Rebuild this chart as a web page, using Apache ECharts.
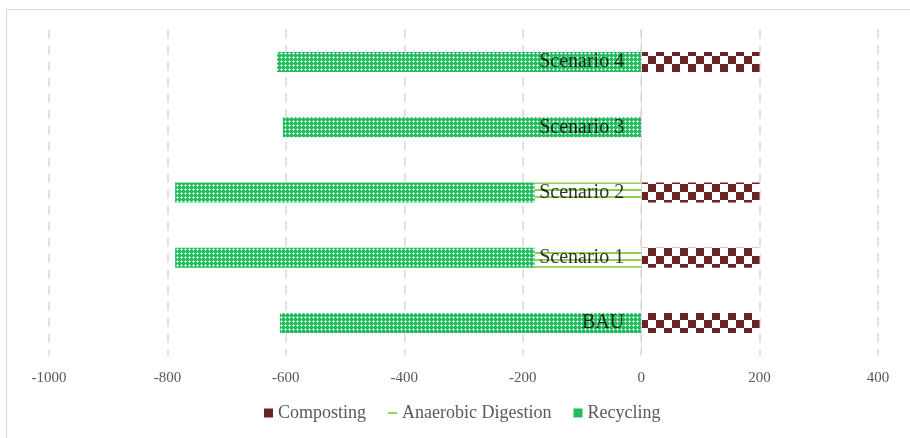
<!DOCTYPE html>
<html><head><meta charset="utf-8">
<script src="https://cdn.jsdelivr.net/npm/echarts@6/dist/echarts.min.js"></script>
<style>html,body{margin:0;padding:0;background:#fff}#c{width:910px;height:438px}</style>
</head><body><div id="c"></div>
<script>
const categories = ['BAU', 'Scenario 1', 'Scenario 2', 'Scenario 3', 'Scenario 4'];
const composting = [200, 200, 200, 0, 200];
const anaerobic = [0, -180, -180, 0, 0];
const recycling = [-610, -607, -607, -605, -615];
const xTicks = [-1000, 400, 200];

function makeTile(w, h, draw) {
  const c = document.createElement('canvas');
  c.width = w; c.height = h;
  draw(c.getContext('2d'));
  return c;
}
const checker = makeTile(16, 16, g => {
  g.fillStyle = '#fff'; g.fillRect(0, 0, 16, 16);
  g.fillStyle = '#6b2424';
  g.fillRect(0, 0, 8, 8); g.fillRect(8, 8, 8, 8);
});
const dots = makeTile(4, 4, g => {
  g.fillStyle = '#22bb5e'; g.fillRect(0, 0, 4, 4);
  g.fillStyle = '#a6e4bd';
  g.fillRect(0, 1, 1, 1); g.fillRect(2, 1, 1, 1); g.fillRect(1, 0, 1, 1); g.fillRect(1, 2, 1, 1);
  g.fillStyle = '#ffffff'; g.fillRect(1, 1, 1, 1);
});
const hlines = makeTile(8, 7, g => {
  g.fillStyle = '#fff'; g.fillRect(0, 0, 8, 7);
  g.fillStyle = '#92d050'; g.fillRect(0, 0, 8, 2);
});

const chart = echarts.init(document.getElementById('c'));
chart.setOption({
  animation: false,
  textStyle: { fontFamily: 'Liberation Serif' },
  graphic: [{
    type: 'rect', shape: { x: 6.5, y: 9.5, width: 1000, height: 1000 },
    style: { fill: 'none', stroke: '#d9d9d9', lineWidth: 1 }, silent: true
  }],
  grid: { left: 49, right: 32, top: 29.5, bottom: 82.5, containLabel: false, outerBoundsMode: 'none' },
  legend: {
    bottom: 11, left: 259, itemWidth: 9, itemHeight: 9, itemGap: 22,
    textStyle: { color: '#595959', fontSize: 18, fontFamily: 'Liberation Serif' },
    data: [
      { name: 'Composting', icon: 'rect', itemStyle: { color: '#6b2424' } },
      { name: 'Anaerobic Digestion', icon: 'path://M0,4 L10,4 L10,6 L0,6 Z', itemStyle: { color: '#92d050' } },
      { name: 'Recycling', icon: 'rect', itemStyle: { color: '#22bb5e' } }
    ]
  },
  xAxis: {
    type: 'value', min: xTicks[0], max: xTicks[1], interval: xTicks[2],
    axisLine: { show: false }, axisTick: { show: false },
    axisLabel: { color: '#595959', fontSize: 15, margin: 15, fontFamily: 'Liberation Serif',
      formatter: v => String(v) },
    splitLine: { show: true, lineStyle: { color: '#d9d9d9', width: 1.5, type: [9, 7] } }
  },
  yAxis: {
    type: 'category', data: categories, z: 10,
    axisLine: { show: true, onZero: true, lineStyle: { color: '#d9d9d9', width: 1 } },
    axisTick: { show: false },
    axisLabel: { show: false }
  },
  series: [
    { name: 'Composting', type: 'bar', stack: 's', barWidth: 20, data: composting,
      itemStyle: { color: { image: checker, repeat: 'repeat' } } },
    { name: 'Anaerobic Digestion', type: 'bar', stack: 's', barWidth: 20, data: anaerobic,
      itemStyle: { color: { image: hlines, repeat: 'repeat' } } },
    { name: 'Recycling', type: 'bar', stack: 's', barWidth: 20, data: recycling,
      itemStyle: { color: { image: dots, repeat: 'repeat' } } },
    { name: 'labels', type: 'scatter', z: 20, symbolSize: 0, silent: true,
      data: categories.map(c => [0, c]),
      label: { show: true, position: 'left', distance: 17, color: '#000', fontSize: 20,
        fontFamily: 'Liberation Serif', formatter: p => p.value[1] } }
  ]
});
</script></body></html>
